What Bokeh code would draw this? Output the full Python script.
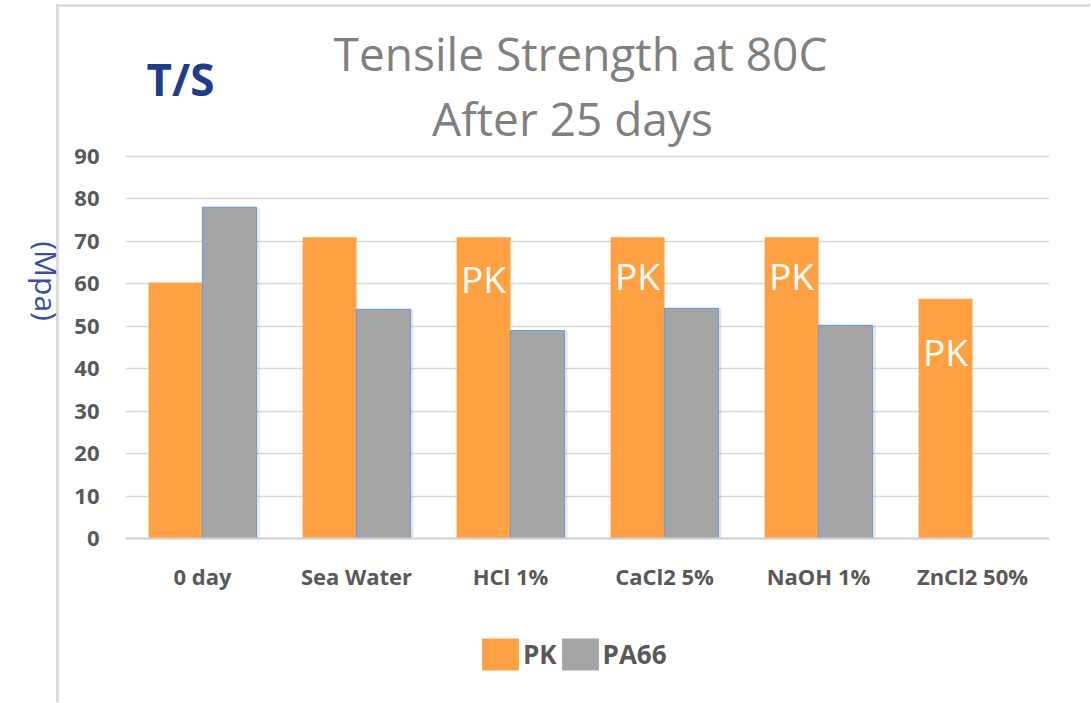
import math
from bokeh.plotting import figure
from bokeh.models import (FactorRange, Range1d, ColumnDataSource, Label, LabelSet,
                          Legend, LegendItem, FixedTicker, Span)
from bokeh.transform import dodge
from bokeh.core.properties import value
from bokeh.embed import file_html
from bokeh.resources import INLINE

# ---- data ----
categories = ["0 day", "Sea Water", "HCl 1%", "CaCl2 5%", "NaOH 1%", "ZnCl2 50%"]
series_names = ["PK", "PA66"]
pk_values = [60.3, 71.0, 71.0, 71.0, 71.0, 56.5]
pa66_values = [78.0, 54.0, 49.0, 54.2, 50.2, float("nan")]
y_ticks = [0, 10, 20, 30, 40, 50, 60, 70, 80, 90]
pk_label_cats = ["HCl 1%", "CaCl2 5%", "NaOH 1%", "ZnCl2 50%"]
pk_label_y = [61.3, 61.9, 62.0, 44.1]
pk_label_text = ["PK", "PK", "PK", "PK"]

title_lines = ["Tensile Strength at 80C", "After 25 days"]
corner_text = "T/S"
y_label = "(Mpa)"

ORANGE = "#FFA142"
GRAY = "#A5A5A5"
FONT = "Open Sans"

src = ColumnDataSource(dict(cat=categories, pk=pk_values, pa66=pa66_values))
lab_src = ColumnDataSource(dict(cat=pk_label_cats, y=pk_label_y, t=pk_label_text))

# frame spans from the canvas top down to just above the x tick label strip;
# the value axis runs 0..90 inside it, the rest is room for titles and legend
p = figure(x_range=FactorRange(*categories), y_range=Range1d(-31.57, 126.76),
           width=1090, height=702, output_backend="svg", toolbar_location=None,
           min_border_left=125, min_border_right=41, min_border_top=0,
           min_border_bottom=30)
p.outline_line_color = None
p.background_fill_alpha = 0
p.border_fill_alpha = 0
p.styles = {
    "background-color": "white",
    "background-image": "linear-gradient(#DCDCDC, #DCDCDC), linear-gradient(#DCDCDC, #DCDCDC)",
    "background-size": "3px 100%, 100% 3px",
    "background-position": "56px 4px, 56px 4px",
    "background-repeat": "no-repeat",
}

bw = 0.35
r_pk = p.vbar(x=dodge("cat", -bw / 2, range=p.x_range), top="pk", bottom=0,
              width=bw, source=src, fill_color=ORANGE, line_color=None)
# soft shadow to the right of the PA66 bars
p.vbar(x=dodge("cat", bw / 2 + 0.02, range=p.x_range), top="pa66", bottom=0,
       width=bw, source=src, fill_color="black", fill_alpha=0.10, line_color=None)
r_pa = p.vbar(x=dodge("cat", bw / 2, range=p.x_range), top="pa66", bottom=0,
              width=bw, source=src, fill_color=GRAY, line_color=None)
p.vbar(x=dodge("cat", bw / 2, range=p.x_range), top="pa66", bottom=0, width=bw,
       source=src, fill_color=None, line_color="#6E9FD6", line_width=1.2)

p.add_layout(LabelSet(x=dodge("cat", -bw / 2, range=p.x_range), y="y", text="t",
                      source=lab_src, text_align="center", text_baseline="middle",
                      text_color="white", text_font=value(FONT),
                      text_font_size="37px"))

# baseline at zero
p.add_layout(Span(location=0, dimension="width", line_color="#D0D0D0",
                  line_width=2))

# axes
p.yaxis.ticker = FixedTicker(ticks=y_ticks)
p.yaxis.bounds = (0, 90)
p.yaxis.axis_line_color = None
p.yaxis.major_tick_line_color = None
p.yaxis.minor_tick_line_color = None
p.yaxis.major_label_standoff = 20
p.yaxis.major_label_text_font = FONT
p.yaxis.major_label_text_font_style = "bold"
p.yaxis.major_label_text_font_size = "22px"
p.yaxis.major_label_text_color = "#595959"
p.yaxis.axis_label = y_label + "\u00a0\u00a0"
p.yaxis.axis_label_orientation = -math.pi / 2
p.yaxis.axis_label_text_font = FONT
p.yaxis.axis_label_text_font_style = "normal"
p.yaxis.axis_label_text_font_size = "30px"
p.yaxis.axis_label_text_color = "#3A4F9E"
p.yaxis.axis_label_standoff = 25

p.xaxis.fixed_location = -3.9
p.xaxis.axis_line_color = None
p.xaxis.major_tick_line_color = None
p.xaxis.minor_tick_line_color = None
p.xaxis.major_label_standoff = 0
p.xaxis.major_label_text_font = FONT
p.xaxis.major_label_text_font_style = "bold"
p.xaxis.major_label_text_font_size = "22px"
p.xaxis.major_label_text_color = "#595959"

p.xgrid.grid_line_color = None
p.ygrid.grid_line_color = "#D9D9D9"
p.ygrid.grid_line_width = 1.5

# legend
legend = Legend(items=[LegendItem(label=series_names[0], renderers=[r_pk]),
                       LegendItem(label=series_names[1], renderers=[r_pa])],
                orientation="horizontal", location=(352, -2),
                glyph_width=46, glyph_height=40, label_standoff=0, spacing=0,
                padding=0, margin=0, border_line_color=None,
                background_fill_alpha=0,
                label_text_font=FONT, label_text_font_style="bold",
                label_text_font_size="26px", label_text_color="#595959")
p.add_layout(legend, "center")

# titles (screen units: from frame left / frame bottom)
p.add_layout(Label(x=455, y=620, x_units="screen", y_units="screen",
                   text=title_lines[0], text_align="center",
                   text_baseline="alphabetic", text_font=FONT,
                   text_font_size="46px", text_color="#808080"))
p.add_layout(Label(x=447, y=555, x_units="screen", y_units="screen",
                   text=title_lines[1], text_align="center",
                   text_baseline="alphabetic", text_font=FONT,
                   text_font_size="46px", text_color="#808080"))
p.add_layout(Label(x=55, y=594, x_units="screen", y_units="screen",
                   text=corner_text, text_align="center",
                   text_baseline="alphabetic", text_font=FONT,
                   text_font_style="bold", text_font_size="44px",
                   text_color="#203C8C"))

open("out.html", "w").write(file_html(p, INLINE))
